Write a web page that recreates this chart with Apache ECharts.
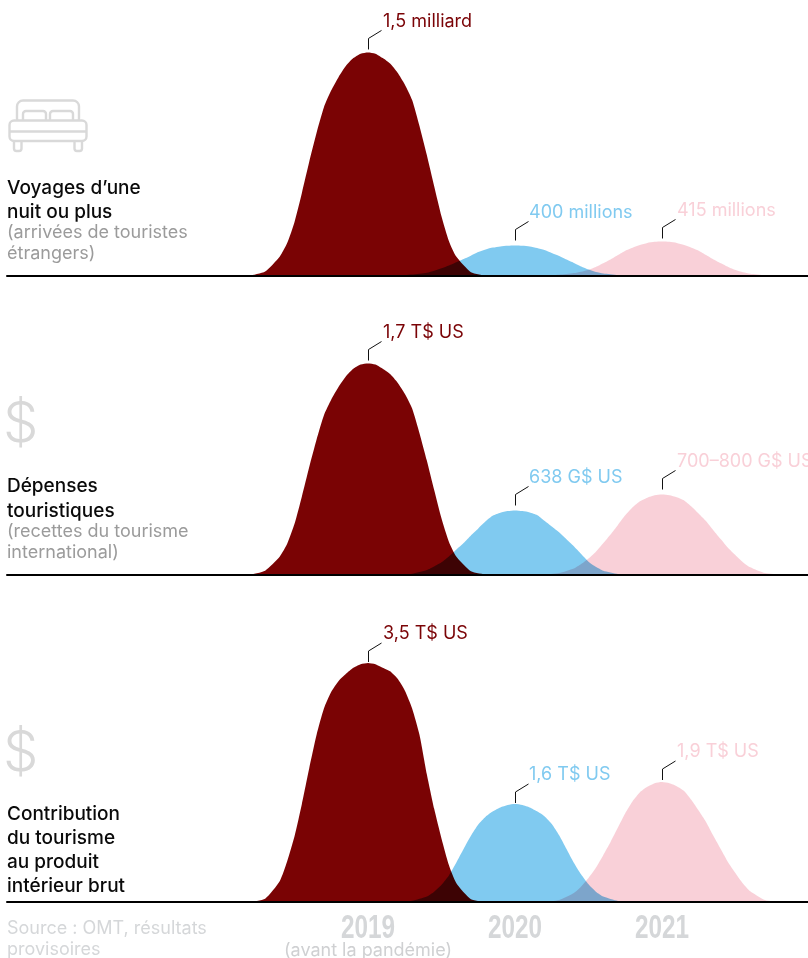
<!DOCTYPE html>
<html lang="fr">
<head>
<meta charset="utf-8">
<title>Tourisme international</title>
<style>html,body{margin:0;padding:0;background:#fff}#c{width:808px;height:958px}</style>
<script src="https://cdn.jsdelivr.net/npm/echarts@6/dist/echarts.min.js"></script>
</head>
<body>
<div id="c"></div>
<script>
// Years shown along the bottom and the year positions sampled around each one
const years = [2019, 2020, 2021];
const yearOffsets = [-0.8, -0.7, -0.6, -0.55, -0.5, -0.45, -0.4, -0.35, -0.3, -0.25, -0.2, -0.15, -0.1, -0.05, 0,
  0.05, 0.1, 0.15, 0.2, 0.25, 0.3, 0.35, 0.4, 0.45, 0.5, 0.55, 0.6, 0.7, 0.8];

// Arrivals, in millions
const arrivals2019 = [0, 27, 128, 218, 360, 555, 765, 960, 1132, 1245, 1335, 1410, 1462, 1492, 1500,
  1492, 1462, 1425, 1365, 1285, 1180, 1005, 810, 600, 397, 232, 127, 22, 0];
const arrivals2020 = [0, 12, 36, 64, 96, 132, 176, 220, 264, 312, 348, 372, 388, 396, 400,
  396, 388, 368, 340, 300, 260, 212, 168, 120, 80, 48, 28, 8, 0];
const arrivals2021 = [0, 8, 29, 46, 71, 104, 149, 195, 249, 303, 340, 373, 398, 411, 415,
  411, 398, 373, 340, 303, 249, 195, 149, 104, 66, 39, 21, 4, 0];

// Receipts, in G$ US
const receipts2019 = [0, 31, 145, 247, 408, 629, 867, 1088, 1284, 1411, 1513, 1598, 1658, 1692, 1700,
  1692, 1658, 1615, 1547, 1456, 1337, 1139, 918, 680, 451, 264, 145, 26, 0];
const receipts2020 = [0, 8, 45, 80, 121, 179, 246, 313, 389, 459, 530, 587, 616, 632, 638,
  632, 619, 593, 536, 479, 421, 351, 281, 204, 128, 77, 38, 6, 0];
const receipts2021 = [0, 13, 56, 98, 150, 214, 293, 375, 465, 555, 630, 686, 720, 743, 750,
  743, 724, 694, 638, 570, 499, 413, 330, 248, 180, 116, 68, 13, 0];

// Contribution to GDP, in G$ US
const gdp2019 = [0, 49, 308, 595, 962, 1435, 1960, 2450, 2835, 3080, 3238, 3342, 3430, 3482, 3500,
  3482, 3430, 3378, 3272, 3098, 2835, 2450, 1872, 1365, 928, 542, 280, 42, 0];
const gdp2020 = [0, 19, 88, 168, 280, 432, 640, 864, 1080, 1264, 1392, 1480, 1544, 1584, 1600,
  1584, 1544, 1480, 1400, 1272, 1088, 864, 640, 448, 288, 168, 88, 16, 0];
const gdp2021 = [0, 32, 142, 247, 380, 541, 741, 950, 1178, 1406, 1596, 1738, 1824, 1881, 1900,
  1881, 1834, 1758, 1615, 1444, 1264, 1045, 836, 627, 456, 294, 171, 32, 0];

const labelsArrivals = ['1,5 milliard', '400 millions', '415 millions'];
const labelsReceipts = ['1,7 T$ US', '638 G$ US', '700–800 G$ US'];
const labelsGdp = ['3,5 T$ US', '1,6 T$ US', '1,9 T$ US'];

// Each hump has its own vertical scale: the humps are illustrative, not on a shared axis
const scaleArrivals = [1614, 3200, 2929];
const scaleReceipts = [1934, 2392, 2250];
const scaleGdp = [3515, 3918, 3800];

const FONT = 'Inter, "Noto Sans", sans-serif';
const COLORS = ['#7a0304', '#80caf0', '#f9d0d8'];
const LABEL_COLORS = ['#7a0306', '#80caf0', '#f9d0d8'];
const PANEL_HEIGHT = 240;
const baselines = [275.5, 574.5, 902];
// Distance in pixels from a hump's summit up to its value label, and across to it
const labelLift = [[31, 33, 31], [31, 33, 33], [29, 29, 30]];
const labelShift = [15, 14, 15];
const panels = [
  { values: [arrivals2019, arrivals2020, arrivals2021], labels: labelsArrivals, scale: scaleArrivals },
  { values: [receipts2019, receipts2020, receipts2021], labels: labelsReceipts, scale: scaleReceipts },
  { values: [gdp2019, gdp2020, gdp2021], labels: labelsGdp, scale: scaleGdp }
];

const grid = [], xAxis = [], yAxis = [], series = [];

panels.forEach((panel, p) => {
  grid.push({ left: 7, right: 0, top: baselines[p] - PANEL_HEIGHT, height: PANEL_HEIGHT });
  xAxis.push({
    type: 'value', gridIndex: p, min: 2016.544, max: 2021.993, z: 10,
    splitLine: { show: false },
    axisTick: { show: false },
    axisLine: { show: true, onZero: false, lineStyle: { color: '#000', width: 2 } },
    axisLabel: { show: false }
  });
  years.forEach((year, i) => {
    const axisIndex = yAxis.length;
    yAxis.push({ type: 'value', gridIndex: p, min: 0, max: panel.scale[i], show: false });
    const values = panel.values[i];
    series.push({
      type: 'line', xAxisIndex: p, yAxisIndex: axisIndex, z: 2,
      blendMode: 'multiply', smooth: 0.2, showSymbol: false, silent: true,
      lineStyle: { width: 0 },
      areaStyle: { color: COLORS[i], opacity: 1 },
      data: yearOffsets.map((d, k) => [year + d, values[k]])
    });
    const peak = Math.max(...values);
    const text = panel.labels[i];
    const lift = labelLift[p][i];
    series.push({
      type: 'custom', xAxisIndex: p, yAxisIndex: axisIndex, z: 5, silent: true, clip: false,
      data: [[year, peak]],
      renderItem: (params, api) => {
        const [x, y] = api.coord([api.value(0), api.value(1)]);
        const px = Math.round(x) + 0.5;
        const end = y - lift + 9;
        return {
          type: 'group',
          children: [
            { type: 'polyline', shape: { points: [[px, end + 19], [px, end + 8], [px + 13, end]] },
              style: { stroke: '#111', fill: null, lineWidth: 1 } },
            { type: 'text', style: { text, x: x + labelShift[i], y: y - lift, fill: LABEL_COLORS[i],
              font: '18px ' + FONT, verticalAlign: 'middle', textAlign: 'left' } }
          ]
        };
      }
    });
  });
});

// Year headings under the last panel, set in a condensed cut
series.push({
  type: 'custom', xAxisIndex: 2, yAxisIndex: yAxis.length - 1, z: 5, silent: true, clip: false,
  data: years.map(y => [y, 0]),
  renderItem: (params, api) => {
    const [x, y] = api.coord([api.value(0), 0]);
    const year = api.value(0);
    const children = [{
      type: 'text', x, y: y + 27, scaleX: 0.715,
      style: { text: String(year), fill: '#d5d7d9', font: 'bold 34px "Liberation Sans", sans-serif',
        textAlign: 'center', verticalAlign: 'middle' }
    }];
    if (year === 2019) {
      children.push({
        type: 'text', x, y: y + 49,
        style: { text: '(avant la pandémie)', fill: '#cfd0d2', font: '18px ' + FONT,
          textAlign: 'center', verticalAlign: 'middle' }
      });
    }
    return { type: 'group', children };
  }
});

// Left-hand captions, pictograms and source note
function caption(lines, color, weight, size) {
  return lines.map(([text, y]) => ({
    type: 'text', left: 7, top: y, silent: true,
    style: { text, fill: color, font: `${weight} ${size}px ${FONT}`, verticalAlign: 'middle' }
  }));
}
const iconStroke = { stroke: '#d9d9d9', lineWidth: 2.4 };
const iconRect = (x, y, width, height, r, fill) => ({
  type: 'rect', silent: true, shape: { x, y, width, height, r },
  style: { ...iconStroke, fill }
});
const bed = {
  type: 'group', silent: true,
  children: [
    iconRect(17, 100.5, 62, 24, 6, '#fff'),
    iconRect(23, 111, 23, 14, 3, '#fff'),
    iconRect(50, 111, 23, 14, 3, '#fff'),
    iconRect(14, 136, 7.5, 15, 2.5, '#fff'),
    iconRect(74.5, 136, 7.5, 15, 2.5, '#fff'),
    iconRect(9.5, 120.5, 77, 20.5, 4.5, '#fff'),
    { type: 'line', silent: true, shape: { x1: 9.5, y1: 131.5, x2: 86.5, y2: 131.5 }, style: iconStroke }
  ]
};
const dollar = y => ({
  type: 'text', left: 3, top: y, silent: true,
  style: { text: '$', fill: '#d9d9d9', font: '300 56px ' + FONT, verticalAlign: 'middle' }
});

const graphic = [
  bed, dollar(397), dollar(726),
  ...caption([['Voyages d’une', 179], ['nuit ou plus', 203]], '#0a0a0a', 500, 19),
  ...caption([['(arrivées de touristes', 224], ['étrangers)', 245]], '#9b9b9b', 400, 18),
  ...caption([['Dépenses', 477], ['touristiques', 502]], '#0a0a0a', 500, 19),
  ...caption([['(recettes du tourisme', 523], ['international)', 544]], '#9b9b9b', 400, 18),
  ...caption([['Contribution', 805], ['du tourisme', 829], ['au produit', 853], ['intérieur brut', 877]], '#0a0a0a', 500, 19),
  ...caption([['Source : OMT, résultats', 920], ['provisoires', 941]], '#d5d7d9', 400, 18)
];

const chart = echarts.init(document.getElementById('c'), null, { renderer: 'canvas', width: 808, height: 958 });
chart.setOption({ animation: false, backgroundColor: '#fff', grid, xAxis, yAxis, series, graphic });
</script>
</body>
</html>
